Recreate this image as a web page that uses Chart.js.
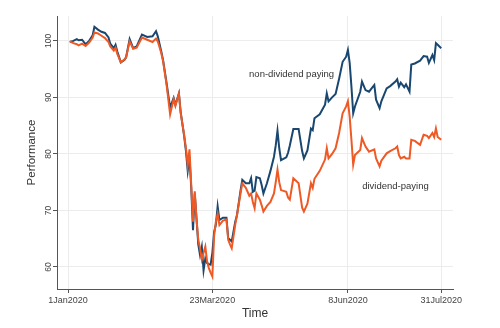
<!DOCTYPE html>
<html>
<head>
<meta charset="utf-8">
<script src="https://cdn.jsdelivr.net/npm/chart.js@4.4.1/dist/chart.umd.min.js"></script>
<style>
  html, body { margin: 0; padding: 0; background: #fff; }
  #wrap { width: 500px; height: 328px; }
</style>
</head>
<body>
<div id="wrap"><canvas id="perfChart"></canvas></div>
<script>
// days since 1 Jan 2020
const days = [1, 3, 5, 6, 8, 10, 12, 14, 15, 17, 19, 21, 23, 24, 26, 27, 28, 30, 32, 33,
  35, 37, 39, 42, 45, 48, 50, 51, 53, 54, 56, 58, 60, 61, 63, 64, 66, 67, 68, 69,
  70, 71, 72, 73, 74, 75, 76, 77, 78, 79, 80, 81, 82, 83, 84, 85, 86, 88, 90, 91,
  92, 93, 95, 96, 98, 99, 101, 103, 104, 105, 106, 107, 109, 110, 111, 113, 115, 117, 118, 119,
  120, 121, 124, 125, 126, 128, 131, 133, 134, 136, 138, 139, 140, 143, 146, 147, 148, 150, 152, 154,
  156, 158, 159, 160, 161, 162, 163, 166, 167, 169, 171, 174, 175, 177, 178, 181, 183, 186, 187, 188,
  189, 191, 192, 194, 195, 197, 200, 202, 204, 205, 207, 208, 209, 210, 212];

const nonDividend = [99.8, 100.0, 100.3, 100.1, 100.2, 99.4, 100.0, 101.0, 102.5, 102.0, 101.6, 101.4, 100.6, 99.5, 98.7, 99.3, 98.1, 96.2, 96.6, 97.1,
  100.3, 98.7, 99.0, 101.1, 100.7, 100.8, 101.7, 100.8, 98.1, 96.6, 92.5, 88.2, 89.9, 88.7, 90.7, 87.4, 83.1, 80.5, 77.0, 79.5,
  74.0, 66.5, 73.0, 68.5, 64.0, 62.1, 63.6, 59.4, 61.5, 60.7, 60.5, 60.4, 62.5, 66.2, 67.5, 70.7, 68.3, 68.7, 68.7, 65.1,
  64.8, 64.5, 68.0, 69.2, 73.5, 75.4, 74.8, 74.8, 75.7, 73.3, 73.5, 75.9, 75.7, 74.5, 73.0, 74.8, 77.0, 79.5, 81.5, 84.1,
  81.0, 78.9, 79.4, 80.2, 81.5, 84.4, 84.4, 80.5, 79.2, 80.6, 84.5, 84.2, 86.3, 87.0, 88.7, 90.7, 89.3, 90.0, 90.6, 93.3,
  96.3, 97.2, 98.4, 96.1, 91.9, 87.2, 88.4, 91.0, 92.8, 91.3, 91.0, 92.2, 89.6, 88.1, 89.3, 91.6, 92.0, 92.8, 93.2, 91.9,
  92.6, 91.8, 92.3, 91.0, 95.8, 96.0, 96.5, 97.3, 97.2, 96.1, 97.5, 96.6, 99.6, 99.3, 98.7];

const dividend = [99.9, 99.6, 99.4, 99.2, 99.5, 99.1, 99.7, 100.6, 101.5, 101.3, 100.9, 100.5, 99.8, 99.0, 98.3, 98.8, 97.7, 96.2, 96.7, 97.1,
  99.9, 98.6, 98.8, 100.6, 100.2, 99.8, 100.4, 99.9, 97.8, 96.4, 92.2, 87.0, 89.7, 88.5, 90.7, 87.2, 83.3, 81.0, 78.0, 80.8,
  74.5, 68.0, 73.4, 68.5, 64.8, 63.3, 61.3, 62.5, 63.6, 61.0, 59.8, 59.0, 58.3, 65.5, 68.0, 69.4, 67.4, 68.2, 68.4, 64.8,
  64.0, 63.3, 67.5, 69.2, 73.0, 74.8, 74.0, 72.6, 73.0, 71.5, 70.4, 73.0, 71.9, 70.9, 69.8, 70.8, 71.5, 73.0, 75.0, 77.2,
  75.0, 73.6, 73.3, 72.3, 71.9, 75.7, 74.8, 70.5, 69.8, 71.2, 74.8, 74.0, 75.6, 77.0, 79.0, 81.0, 79.2, 80.0, 81.0, 83.7,
  87.2, 88.4, 89.3, 86.6, 82.5, 78.1, 79.8, 80.7, 82.8, 81.3, 80.4, 80.8, 79.2, 77.8, 78.8, 80.1, 80.5, 81.0, 81.3, 79.8,
  79.2, 79.5, 79.2, 79.2, 82.5, 82.3, 81.6, 83.4, 83.2, 82.8, 83.7, 83.0, 84.5, 83.0, 82.5];

const tickDays = [0, 82, 159, 212];
const tickLabels = ['1Jan2020', '23Mar2020', '8Jun2020', '31Jul2020'];
const yTicks = [60, 70, 80, 90, 100];

const navy = '#1a476f';
const orange = '#ee5a26';
const font = '"Liberation Sans", Arial, Helvetica, sans-serif';

// rotated y tick labels and the two series captions
const textPlugin = {
  id: 'textPlugin',
  afterDraw(chart) {
    const ctx = chart.ctx;
    const x = chart.scales.x;
    const y = chart.scales.y;
    ctx.save();
    ctx.fillStyle = '#444';
    ctx.font = '8.5px ' + font;
    ctx.textAlign = 'center';
    ctx.textBaseline = 'middle';
    yTicks.forEach(v => {
      ctx.save();
      ctx.translate(x.left - 8, y.getPixelForValue(v));
      ctx.rotate(-Math.PI / 2);
      ctx.fillText(String(v), 0, 0);
      ctx.restore();
    });
    ctx.fillStyle = '#333';
    ctx.font = '9.5px ' + font;
    ctx.fillText('non-dividend paying', x.getPixelForValue(127), y.getPixelForValue(94.0));
    ctx.fillText('dividend-paying', x.getPixelForValue(186), y.getPixelForValue(74.3));
    ctx.restore();
  }
};

new Chart(document.getElementById('perfChart'), {
  type: 'line',
  data: {
    datasets: [{
      label: 'non-dividend paying',
      data: days.map((d, i) => ({ x: d, y: nonDividend[i] })),
      borderColor: navy,
      borderWidth: 2,
      pointRadius: 0,
      tension: 0,
      order: 1
    }, {
      label: 'dividend-paying',
      data: days.map((d, i) => ({ x: d, y: dividend[i] })),
      borderColor: orange,
      borderWidth: 2,
      pointRadius: 0,
      tension: 0,
      order: 0
    }]
  },
  options: {
    responsive: true,
    maintainAspectRatio: false,
    animation: false,
    layout: { padding: { left: 21, right: 47, top: 16, bottom: 4 } },
    plugins: {
      legend: { display: false },
      tooltip: { enabled: false }
    },
    scales: {
      x: {
        type: 'linear',
        min: -6.26,
        max: 218.7,
        afterBuildTicks: s => { s.ticks = tickDays.map(v => ({ value: v })); },
        afterFit: s => { s.height = 35; },
        ticks: {
          autoSkip: false,
          maxRotation: 0,
          padding: 2,
          color: '#444',
          font: { family: font, size: 9 },
          callback: v => tickLabels[tickDays.indexOf(v)]
        },
        grid: { color: '#ececec', tickColor: '#555', tickLength: 4 },
        border: { color: '#555', width: 1 },
        title: {
          display: true,
          text: 'Time',
          color: '#333',
          font: { family: font, size: 12 },
          padding: { top: 0, bottom: 3 }
        }
      },
      y: {
        min: 56.1,
        max: 104.4,
        afterBuildTicks: s => { s.ticks = yTicks.map(v => ({ value: v })); },
        afterFit: s => { s.width = 36; },
        ticks: { display: false },
        grid: { color: '#ececec', tickColor: '#555', tickLength: 4 },
        border: { color: '#555', width: 1 },
        title: {
          display: true,
          text: 'Performance',
          color: '#333',
          font: { family: font, size: 11.5 },
          padding: { top: 4, bottom: 4 }
        }
      }
    }
  },
  plugins: [textPlugin]
});
</script>
</body>
</html>
